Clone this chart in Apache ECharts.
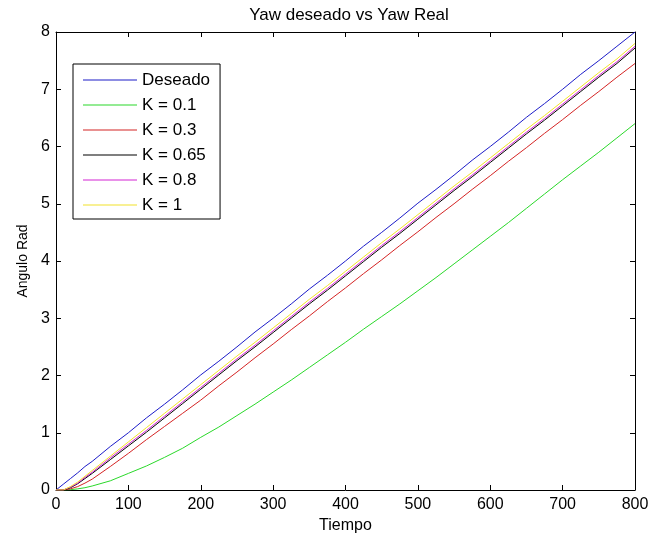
<!DOCTYPE html>
<html>
<head>
<meta charset="utf-8">
<script src="https://cdn.jsdelivr.net/npm/echarts@6/dist/echarts.min.js"></script>
<style>
html,body{margin:0;padding:0;background:#fff;}
#chart{width:652px;height:542px;}
</style>
</head>
<body>
<div id="chart"></div>
<script>
var tiempo = [0,10,20,30,40,50,75,100,125,150,175,200,225,250,275,300,325,350,375,400,425,450,475,500,525,550,575,600,625,650,675,700,725,750,775,800];
var deseado = [0,0.1,0.2,0.3,0.41,0.5,0.76,1.0,1.26,1.5,1.75,2.01,2.25,2.5,2.76,3.0,3.25,3.51,3.75,4.0,4.26,4.5,4.75,5.01,5.25,5.5,5.76,6.0,6.25,6.51,6.75,7.0,7.26,7.5,7.75,8.0];
var k01 = [0,0,0.005,0.02,0.04,0.07,0.16,0.29,0.42,0.57,0.73,0.92,1.1,1.3,1.5,1.71,1.92,2.14,2.36,2.58,2.81,3.03,3.25,3.48,3.71,3.95,4.19,4.43,4.67,4.92,5.17,5.42,5.66,5.9,6.15,6.4];
var k03 = [0,0,0.02,0.06,0.12,0.19,0.41,0.64,0.88,1.11,1.34,1.57,1.82,2.06,2.31,2.55,2.8,3.04,3.29,3.53,3.78,4.02,4.27,4.51,4.76,5.0,5.25,5.49,5.74,5.98,6.23,6.47,6.72,6.96,7.21,7.45];
var k065 = [0,0,0.04,0.11,0.2,0.29,0.53,0.77,1.01,1.26,1.51,1.76,2.01,2.26,2.5,2.75,3.0,3.25,3.49,3.74,3.99,4.24,4.48,4.73,4.98,5.23,5.47,5.72,5.97,6.22,6.46,6.71,6.96,7.21,7.45,7.72];
var k08 = [0,0,0.05,0.12,0.22,0.31,0.56,0.8,1.04,1.29,1.54,1.79,2.04,2.29,2.53,2.78,3.03,3.28,3.52,3.77,4.02,4.27,4.51,4.76,5.01,5.26,5.5,5.75,6.0,6.25,6.49,6.74,6.99,7.24,7.48,7.75];
var k1 = [0,0,0.06,0.14,0.24,0.34,0.59,0.84,1.09,1.34,1.59,1.84,2.09,2.34,2.58,2.83,3.08,3.33,3.57,3.82,4.07,4.32,4.56,4.81,5.06,5.31,5.55,5.8,6.05,6.3,6.54,6.79,7.04,7.29,7.53,7.8];
var xTicks = [0,100,200,300,400,500,600,700,800];
var yTicks = [0,1,2,3,4,5,6,7,8];
var seriesNames = ['Deseado','K = 0.1','K = 0.3','K = 0.65','K = 0.8','K = 1'];
var seriesColors = ['#1c1cc8','#2ad82a','#d42424','#000000','#d424d4','#f2e22a'];
var seriesValues = [deseado,k01,k03,k065,k08,k1];

function pairs(ys){ return tiempo.map(function(t,i){ return [t, ys[i]]; }); }

var FONT = "'Liberation Sans', Arial, sans-serif";
function mkAxis(extra){
  var a = {
    type:'value',
    axisLine:{show:true,onZero:false,lineStyle:{color:'#000',width:1}},
    axisTick:{show:true,inside:true,length:5,lineStyle:{color:'#000',width:1}},
    splitLine:{show:false}
  };
  for (var k in extra) a[k] = extra[k];
  return a;
}
var chart = echarts.init(document.getElementById('chart'), null, {renderer:'canvas'});
chart.setOption({
  animation:false,
  backgroundColor:'#fff',
  title:{text:'Yaw deseado vs Yaw Real',left:344,top:2,textAlign:'center',
    textStyle:{fontFamily:FONT,fontSize:17,fontWeight:'normal',color:'#000'}},
  grid:{left:56,right:17,top:32,bottom:52,containLabel:false},
  legend:{orient:'vertical',left:73,top:64,padding:[6,10,4,10],
    icon:'rect',itemWidth:54,itemHeight:1,itemGap:5,
    borderColor:'#000',borderWidth:1,backgroundColor:'#fff',
    textStyle:{fontFamily:FONT,fontSize:17,color:'#000',lineHeight:20},
    data:seriesNames},
  xAxis:[
    mkAxis({min:xTicks[0],max:xTicks[xTicks.length-1],interval:100,position:'bottom',
      name:'Tiempo',nameLocation:'middle',nameGap:27,
      nameTextStyle:{fontFamily:FONT,fontSize:16,color:'#000'},
      axisLabel:{fontFamily:FONT,fontSize:16,color:'#000',margin:7}}),
    mkAxis({min:xTicks[0],max:xTicks[xTicks.length-1],interval:100,position:'top',
      axisLabel:{show:false}})
  ],
  yAxis:[
    mkAxis({min:yTicks[0],max:yTicks[yTicks.length-1],interval:1,position:'left',
      name:'Angulo Rad',nameLocation:'middle',nameGap:23,
      nameTextStyle:{fontFamily:FONT,fontSize:14,color:'#000'},
      axisLabel:{fontFamily:FONT,fontSize:16,color:'#000',margin:6}}),
    mkAxis({min:yTicks[0],max:yTicks[yTicks.length-1],interval:1,position:'right',
      axisLabel:{show:false}})
  ],
  series: seriesNames.map(function(n,i){
    return {name:n,type:'line',data:pairs(seriesValues[i]),symbol:'none',showSymbol:false,
      lineStyle:{color:seriesColors[i],width:1},itemStyle:{color:seriesColors[i]},
      xAxisIndex:0,yAxisIndex:0};
  })
});
</script>
</body>
</html>
